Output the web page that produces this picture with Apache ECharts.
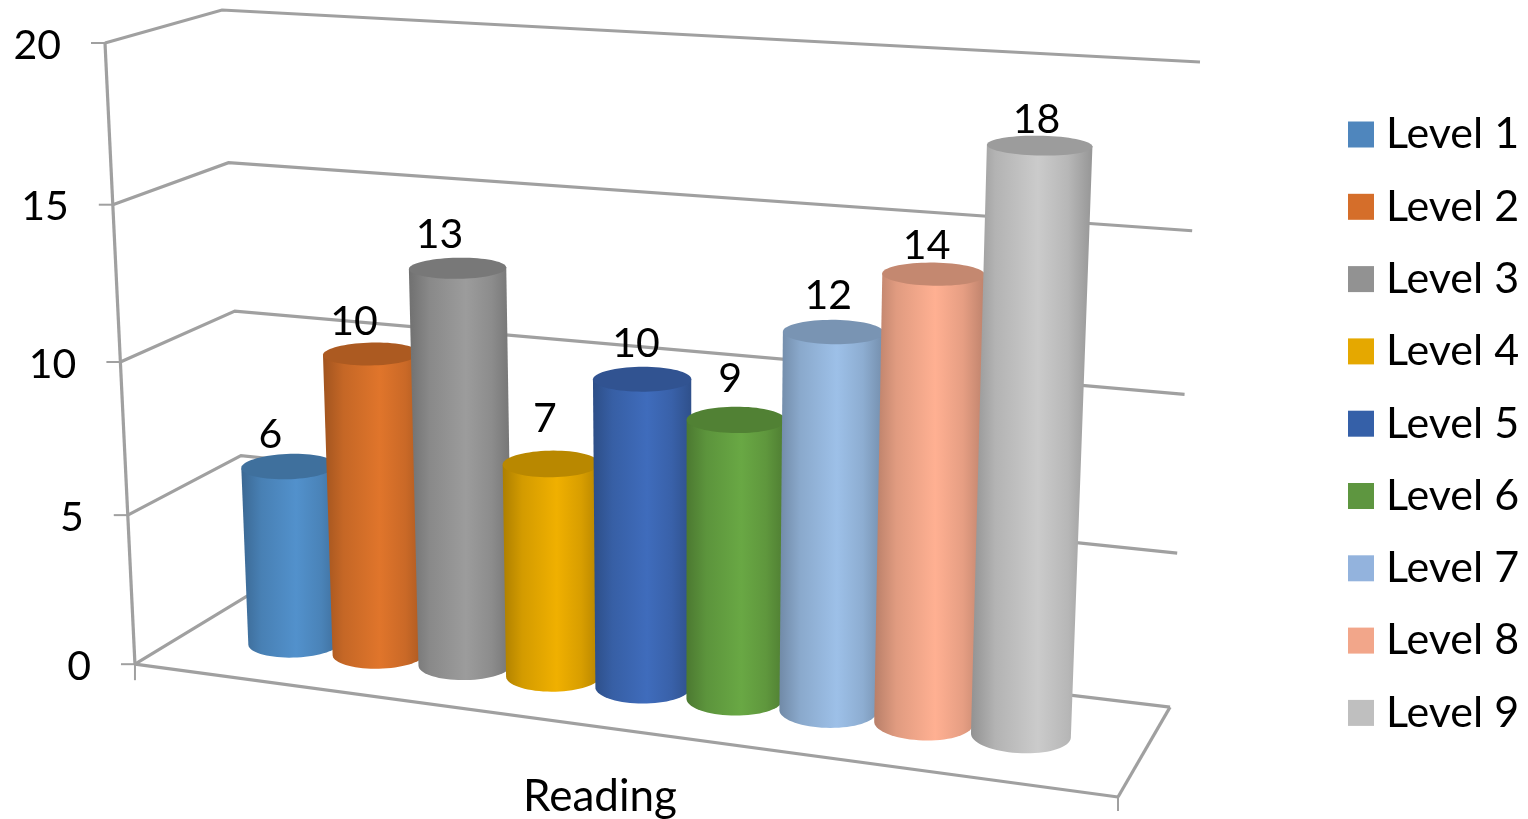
<!DOCTYPE html>
<html><head><meta charset="utf-8">
<style>html,body{margin:0;padding:0;background:#fff}#c{width:1528px;height:819px}</style>
<script src="https://cdn.jsdelivr.net/npm/echarts@6/dist/echarts.min.js"></script>
</head><body><div id="c"></div>
<script>
const categories = ['Reading'];
const levels = ['Level 1','Level 2','Level 3','Level 4','Level 5','Level 6','Level 7','Level 8','Level 9'];
const values = [6,10,13,7,10,9,12,14,18];
const yTicks = [0,5,10,15,20];

const legendColors = ['#4F86BD','#D56E2A','#929292','#E5A800','#3560A8','#5E9640','#93B3DD','#F2A68A','#BFBFBF'];
const faceColors = ['#5291CC','#E0752B','#9C9C9C','#F0B000','#3F6CBC','#69A844','#9DC0E8','#FFB092','#CBCBCB'];
const labelNudgeX = [-18,-17,-18,-6,-6,-6,-5,-7,-3];
const labelNudgeY = [-32,-32,-33,-45,-35,-41,-36,-28,-26];

const FONT = 'Lato, Carlito, "Open Sans", sans-serif';
const GRID = {left:100, top:43, width:1000, height:732};
const LINE = '#A0A0A0';

function quad(p0,p1,p2,p3){
  const dx1=p1[0]-p2[0],dx2=p3[0]-p2[0],sx=p0[0]-p1[0]+p2[0]-p3[0];
  const dy1=p1[1]-p2[1],dy2=p3[1]-p2[1],sy=p0[1]-p1[1]+p2[1]-p3[1];
  const den=dx1*dy2-dx2*dy1;
  const g=(sx*dy2-dx2*sy)/den,h=(dx1*sy-sx*dy1)/den;
  const a=p1[0]-p0[0]+g*p1[0],b=p3[0]-p0[0]+h*p3[0],c=p0[0];
  const d=p1[1]-p0[1]+g*p1[1],e=p3[1]-p0[1]+h*p3[1],f=p0[1];
  return (s,t)=>{const q=g*s+h*t+1;return [(a*s+b*t+c)/q,(d*s+e*t+f)/q];};
}
const frontPlane = quad([135,665],[1118,797],[1146,106],[105,43]);
const backPlane  = quad([247,597],[1170,708],[1200,62],[222,10]);
function project(s,t,w){
  const a=frontPlane(s,t),b=backPlane(s,t);
  return [a[0]+(b[0]-a[0])*w,a[1]+(b[1]-a[1])*w];
}
function toT(py){return (GRID.top+GRID.height-py)/GRID.height;}
function toS(px){return (px-GRID.left)/GRID.width;}
function shade(hex,k){
  const n=parseInt(hex.slice(1),16);
  const ch=[(n>>16)&255,(n>>8)&255,n&255].map(v=>Math.min(255,Math.round(v*k)));
  return 'rgb('+ch.join(',')+')';
}
const STEP=0.0954, RADIUS=0.047, DEPTH=0.2, MID=0.51;

function ring(sc,t){
  const pts=[];
  for(let k=0;k<72;k++){
    const a=k/72*Math.PI*2;
    pts.push(project(sc+RADIUS*Math.cos(a),t,MID+DEPTH*Math.sin(a)));
  }
  return pts;
}
function frontArc(pts){
  let l=0,r=0;
  pts.forEach((p,i)=>{if(p[0]<pts[l][0])l=i;if(p[0]>pts[r][0])r=i;});
  const arc=[];
  let i=r;
  const n=pts.length;
  const dirDown = pts[(r+n-1)%n][1]>pts[(r+1)%n][1] ? -1 : 1;
  while(true){arc.push(pts[i]);if(i===l)break;i=(i+dirDown+n)%n;}
  return {arc,l:pts[l],r:pts[r]};
}
function cylinderItem(idx){
  return function(params,api){
    const cat=api.coord([api.value(0),0]);
    const top=api.coord([api.value(0),api.value(1)]);
    const band=api.size([1,0])[0];
    const sc=toS(cat[0]+(idx-4)*STEP*band);
    const tTop=toT(top[1]), tBot=toT(cat[1]);
    const topRing=ring(sc,tTop), botRing=ring(sc,tBot);
    const b=frontArc(botRing), u=frontArc(topRing);
    const body=[u.r].concat(b.arc).concat([u.l]);
    const base=faceColors[idx];
    const fill=new echarts.graphic.LinearGradient(0,0,1,0,[
      {offset:0,color:shade(base,0.72)},
      {offset:0.2,color:shade(base,0.88)},
      {offset:0.55,color:shade(base,1)},
      {offset:0.8,color:shade(base,0.9)},
      {offset:1,color:shade(base,0.74)}
    ]);
    const c=project(sc,tTop,MID);
    return {type:'group',children:[
      {type:'polygon',shape:{points:body},style:{fill:fill}},
      {type:'polygon',shape:{points:topRing},style:{fill:shade(base,0.77)}},
      {type:'text',style:{text:String(api.value(1)),x:c[0]+labelNudgeX[idx],y:c[1]+labelNudgeY[idx],
        fontSize:41,fontFamily:FONT,fill:'#000',align:'center',verticalAlign:'middle'}}
    ]};
  };
}
function frameItem(params,api){
  const v=api.value(0);
  const t=toT(api.coord([0,v])[1]);
  const A=project(0,t,0),B=project(0,t,1),C=project(1,t,1);
  const ln=(p,q,lw)=>({type:'line',shape:{x1:p[0],y1:p[1],x2:q[0],y2:q[1]},style:{stroke:LINE,lineWidth:lw||3.2}});
  const kids=[
    {type:'polyline',shape:{points:[A,B,C]},style:{stroke:LINE,lineWidth:3.2,fill:'none'}},
    ln(A,[A[0]-14,A[1]],2),
    {type:'text',style:{text:String(v),x:A[0]-44,y:A[1]+2.5,fontSize:41,fontFamily:FONT,fill:'#000',align:'right',verticalAlign:'middle'}}
  ];
  if(v===0){
    const D=project(1,0,0);
    kids.push(ln(A,D),ln(D,C));
    kids.push(ln(A,[A[0],A[1]+16],2),ln(D,[D[0],D[1]+14],2));
    kids.push(ln(A,project(0,1,0)));
  }
  return {type:'group',children:kids};
}
const series=[{
  type:'custom',name:'frame',renderItem:frameItem,data:yTicks.map(v=>[v]),
  encode:{y:0},silent:true,z:1,clip:false
}].concat(levels.map((name,i)=>({
  type:'custom',name:name,renderItem:cylinderItem(i),
  data:[[categories[0],values[i]]],
  encode:{x:0,y:1},
  itemStyle:{color:legendColors[i]},
  z:2+i,clip:false,silent:true
})));
const chart=echarts.init(document.getElementById('c'),null,{renderer:'canvas'});
chart.setOption({
  animation:false,
  backgroundColor:'#fff',
  grid:Object.assign({},GRID),
  xAxis:{type:'category',data:categories,
    axisLine:{show:false},axisTick:{show:false},splitLine:{show:false},
    axisLabel:{fontSize:44,fontFamily:FONT,color:'#000',margin:1}},
  yAxis:{type:'value',min:0,max:20,interval:5,show:false},
  legend:{orient:'vertical',left:1343,top:108,itemWidth:26,itemHeight:26,itemGap:29.3,
    icon:'rect',selectedMode:false,data:levels,
    textStyle:{fontSize:43,fontFamily:FONT,color:'#000',lineHeight:26,padding:[0,0,0,7]}},
  series:series
});
</script></body></html>
